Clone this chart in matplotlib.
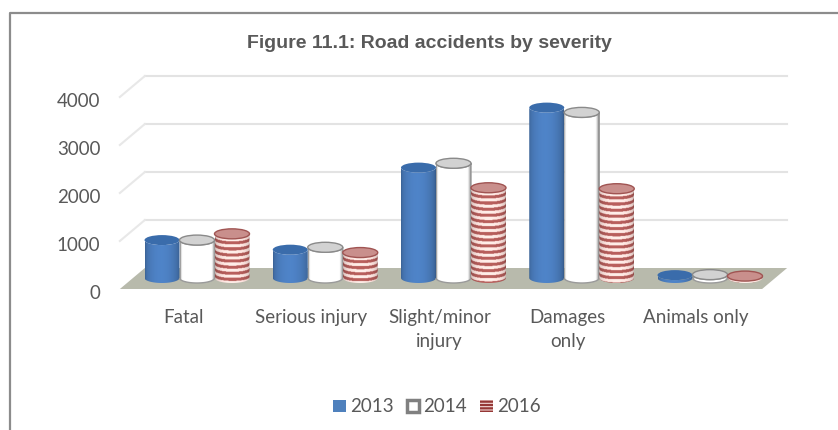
import numpy as np
import matplotlib
matplotlib.use("Agg")
import matplotlib.pyplot as plt
from matplotlib.lines import Line2D
from matplotlib.patches import Ellipse, Patch, PathPatch, Polygon
from matplotlib.path import Path
from matplotlib.transforms import ScaledTranslation

categories = ["Fatal", "Serious injury", "Slight/minor\ninjury", "Damages\nonly", "Animals only"]
years = ["2013", "2014", "2016"]
values_2013 = [790, 590, 2300, 3550, 60]
values_2014 = [790, 640, 2390, 3450, 70]
values_2016 = [920, 530, 1880, 1860, 40]
y_ticks = [0, 1000, 2000, 3000, 4000]

TEXT = "#595959"
WIDTH, HEIGHT = 838, 430
# pixels per category and per 1000 units, in the plane running through the bars
CAT_PX = 128.25
UNIT_PX = 48.0
PX_X = 1 / CAT_PX
PX_Y = 1000 / UNIT_PX
BAR_W = 35 * PX_X
RY = 5 * PX_Y


def cylinder_image(year, top):
    """Pixel array for the side of one cylinder, with shading left to right."""
    rows = max(int((top / PX_Y + 12) * 2), 4)
    u = np.linspace(-1, 1, 70)
    v = np.arange(rows) / 2
    round_part = np.sqrt(1 - u**2)
    if year == "2013":
        shade = 0.76 + 0.28 * round_part - 0.06 * np.clip(u, 0, 1)
        img = np.ones((rows, 70, 3)) * np.array([76, 127, 193]) / 255
        img = img * shade[None, :, None]
    elif year == "2014":
        grey = 0.5 + 0.5 * np.clip(round_part * 2.1 - 0.25 * np.clip(u, 0, 1), 0, 1)
        img = np.ones((rows, 70, 3)) * grey[None, :, None]
    else:
        curved = v[:, None] - 4.0 * round_part[None, :]
        t = (curved / 6.2) % 1
        pale = np.array([1.0, 0.90, 0.88])
        dark = np.array([0.70, 0.36, 0.35])
        img = np.where((t < 0.5)[..., None], pale, dark)
        img = img * (0.78 + 0.26 * round_part)[None, :, None]
    return np.clip(img, 0, 1)


def cylinder_path(x, top):
    """Outline of the cylinder side, in data coordinates."""
    a = np.linspace(np.pi, 2 * np.pi, 30)
    bottom_x = x + BAR_W / 2 * np.cos(a)
    bottom_y = RY * np.sin(a)
    upper_x = x + BAR_W / 2 * np.cos(a[::-1])
    upper_y = top + RY * np.sin(a[::-1])
    return Path(np.column_stack([np.r_[bottom_x, upper_x], np.r_[bottom_y, upper_y]]))


def draw_bar(ax, x, top, year):
    path = cylinder_path(x, top)
    im = ax.imshow(
        cylinder_image(year, top),
        extent=(x - BAR_W / 2, x + BAR_W / 2, -RY, top + RY),
        aspect="auto",
        zorder=3,
    )
    outline = PathPatch(path, transform=ax.transData, facecolor="none", edgecolor="none")
    ax.add_patch(outline)
    outline.set_clip_on(False)
    im.set_clip_box(ax.figure.bbox)
    im.set_clip_path(outline)

    if year == "2013":
        face, edge = "#3a6cab", "none"
    elif year == "2014":
        face, edge = "#d2d2d2", "#8a8a8a"
        ax.add_patch(PathPatch(path, facecolor="none", edgecolor="#9a9a9a", lw=1.0, zorder=3, clip_on=False))
    else:
        face, edge = "#c98f8c", "#a05452"
    ax.add_patch(Ellipse((x, top), BAR_W, 2 * RY, facecolor=face, edgecolor=edge, lw=1.0, zorder=3, clip_on=False))


def main():
    fig = plt.figure(figsize=(WIDTH / 100, HEIGHT / 100), dpi=100, facecolor="white")

    # Axes sit in the plane through the bars: y=0 at pixel 278, 4000 at pixel 86.
    left = 197 - CAT_PX / 2
    ax = fig.add_axes([left / WIDTH, (HEIGHT - 278) / HEIGHT, 5 * CAT_PX / WIDTH, 4 * UNIT_PX / HEIGHT])
    ax.patch.set_visible(False)
    for spine in ax.spines.values():
        spine.set_visible(False)

    # Back wall lines and floor are the same scale, shifted for depth.
    back_x = 12 * PX_X
    back_y = 10 * PX_Y
    front_x = -13 * PX_X
    front_y = -11 * PX_Y
    x0, x1 = -0.5, 4.5 + PX_X
    for tick in y_ticks[1:]:
        ax.plot([x0 + back_x, x1 + back_x], [tick + back_y, tick + back_y], color="#e3e3e3", lw=1.5, zorder=1, clip_on=False)
        ax.plot([x0 + back_x, x0 + front_x], [tick + back_y, tick + front_y], color="#e8e8e8", lw=1.5, zorder=1, clip_on=False)
    floor = [
        (x0 + back_x, back_y),
        (x1 + back_x, back_y),
        (x1 + front_x, front_y),
        (x0 + front_x, front_y),
    ]
    ax.add_patch(Polygon(floor, closed=True, facecolor="#b8baac", edgecolor="none", zorder=2, clip_on=False))

    series = [values_2013, values_2014, values_2016]
    for i in range(len(categories)):
        for j, year in enumerate(years):
            draw_bar(ax, i + (j - 1) * 35 * PX_X, series[j][i], year)

    ax.set_xlim(-0.5, 4.5)
    ax.set_ylim(0, 4000)

    ax.set_xticks(range(len(categories)), categories)
    ax.set_yticks(y_ticks, [str(t) for t in y_ticks])
    ax.tick_params(axis="both", length=0, labelsize=13.5, labelcolor=TEXT)
    ax.tick_params(axis="x", pad=22.5)
    ax.tick_params(axis="y", pad=23.5)
    for label in ax.get_xticklabels():
        label.set_family("Lato")
        label.set_linespacing(1.5)
        label.set_transform(label.get_transform() + ScaledTranslation(-14 / 100, 0, fig.dpi_scale_trans))
    for label in ax.get_yticklabels():
        label.set_family("Lato")
        label.set_transform(label.get_transform() + ScaledTranslation(0, -14 / 100, fig.dpi_scale_trans))

    fig.text(
        429 / WIDTH, 1 - 44 / HEIGHT, "Figure 11.1: Road accidents by severity",
        family="Liberation Sans", fontweight="bold", fontsize=14, color=TEXT,
        ha="center", va="center",
    )

    plt.rcParams["hatch.linewidth"] = 1.6
    handles = [
        Patch(facecolor="#4f81bd", edgecolor="none"),
        Patch(facecolor="white", edgecolor="#808080", lw=2.5),
        Patch(facecolor="#f3d9d7", edgecolor="#953735", hatch="-----", lw=0),
    ]
    fig.legend(
        handles, years, loc="center", bbox_to_anchor=(437 / WIDTH, 1 - 407 / HEIGHT),
        ncol=3, frameon=False, prop={"family": "Lato", "size": 13.5}, labelcolor=TEXT,
        handlelength=0.67, handleheight=0.67, handletextpad=0.22, columnspacing=0.7,
    )

    # Chart border: only left and top edges are inside the crop.
    fig.add_artist(Line2D([10 / WIDTH, 10 / WIDTH, 1], [0, 1 - 13 / HEIGHT, 1 - 13 / HEIGHT], color="#8c8c8c", lw=1.6))

    fig.savefig("out.png", dpi=100)


if __name__ == "__main__":
    main()
